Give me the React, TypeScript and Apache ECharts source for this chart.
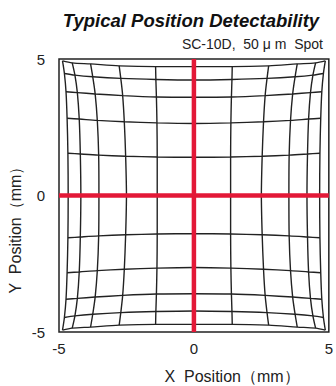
import React, { useEffect, useRef } from "react";
import * as echarts from "echarts";

// Quadrant readings (magnitudes, mm). Row index j: 0 = centre row .. 5 = outermost row.
// Column index i: 0 = centre column .. 5 = outermost column.
const uTable: number[][] = [
  [0, 1.36, 2.5, 3.52, 4.19, 4.66],
  [0, 1.36, 2.53, 3.53, 4.21, 4.67],
  [0, 1.37, 2.58, 3.58, 4.25, 4.7],
  [0, 1.39, 2.64, 3.66, 4.32, 4.74],
  [0, 1.41, 2.71, 3.75, 4.41, 4.8],
  [0, 1.42, 2.77, 3.83, 4.51, 4.87],
];
const vTable: number[][] = [
  [0, 0, 0, 0, 0, 0],
  [1.4, 1.41, 1.44, 1.48, 1.52, 1.55],
  [2.64, 2.66, 2.7, 2.75, 2.8, 2.83],
  [3.6, 3.61, 3.66, 3.72, 3.77, 3.8],
  [4.23, 4.25, 4.29, 4.35, 4.41, 4.47],
  [4.72, 4.72, 4.75, 4.82, 4.86, 4.93],
];
const gridIdx = [-5, -4, -3, -2, -1, 0, 1, 2, 3, 4, 5];
const axisTicks = [-5, 0, 5];
const crossH = [[-5, 0], [5, 0]];
const crossV = [[0, -5], [0, 5]];

const FONT = "'Liberation Sans', Arial, sans-serif";

function pt(jj: number, ii: number): number[] {
  const j = Math.abs(jj);
  const i = Math.abs(ii);
  const u = Math.sign(ii) * uTable[j][i];
  const v = Math.sign(jj) * vTable[j][i];
  return [u, v];
}

export default function App() {
  const ref = useRef<HTMLDivElement>(null);
  useEffect(() => {
    if (!ref.current) return;
    const chart = echarts.init(ref.current, undefined, { renderer: "svg" });
    const series: any[] = [];
    const lineStyle = { color: "#222", width: 1.4 };
    gridIdx.forEach((jj) => {
      series.push({
        type: "line",
        data: gridIdx.map((ii) => pt(jj, ii)),
        showSymbol: false,
        symbol: "none",
        smooth: 0.3,
        lineStyle,
        silent: true,
        z: 2,
      });
    });
    gridIdx.forEach((ii) => {
      series.push({
        type: "line",
        data: gridIdx.map((jj) => pt(jj, ii)),
        showSymbol: false,
        symbol: "none",
        smooth: 0.3,
        lineStyle,
        silent: true,
        z: 2,
      });
    });
    [crossH, crossV].forEach((d) => {
      series.push({
        type: "line",
        data: d,
        symbol: "none",
        lineStyle: { color: "#e31837", width: 4.5 },
        silent: true,
        z: 5,
      });
    });
    chart.setOption({
      animation: false,
      grid: {
        left: 59,
        top: 59,
        width: 273,
        height: 273,
        show: true,
        borderColor: "#222",
        borderWidth: 1.5,
        backgroundColor: "transparent",
      },
      xAxis: {
        type: "value",
        min: -5,
        max: 5,
        interval: 5,
        axisLine: { show: false },
        axisTick: { show: false },
        splitLine: { show: false },
        axisLabel: {
          fontSize: 15,
          color: "#222",
          fontFamily: FONT,
          margin: 9,
          formatter: (v: number) => (axisTicks.includes(v) ? String(v) : ""),
        },
      },
      yAxis: {
        type: "value",
        min: -5,
        max: 5,
        interval: 5,
        axisLine: { show: false },
        axisTick: { show: false },
        splitLine: { show: false },
        axisLabel: {
          fontSize: 15,
          color: "#222",
          fontFamily: FONT,
          margin: 14,
          formatter: (v: number) => (axisTicks.includes(v) ? String(v) : ""),
        },
      },
      graphic: [
        {
          type: "text",
          x: 191,
          y: 20,
          style: {
            text: "Typical Position Detectability",
            font: `italic bold 18.5px ${FONT}`,
            fill: "#111",
            textAlign: "center",
            textVerticalAlign: "middle",
          },
        },
        {
          type: "text",
          x: 323,
          y: 44,
          style: {
            text: "SC-10D,  50 μ m  Spot",
            font: `14px ${FONT}`,
            fill: "#222",
            textAlign: "right",
            textVerticalAlign: "middle",
          },
        },
        {
          type: "text",
          x: 232,
          y: 376,
          style: {
            text: "X  Position（mm）",
            font: `16px ${FONT}`,
            fill: "#222",
            textAlign: "center",
            textVerticalAlign: "middle",
          },
        },
        {
          type: "text",
          x: 15,
          y: 226,
          rotation: Math.PI / 2,
          style: {
            text: "Y  Position（mm）",
            font: `16px ${FONT}`,
            fill: "#222",
            textAlign: "center",
            textVerticalAlign: "middle",
          },
        },
      ],
      series,
    });
    return () => chart.dispose();
  }, []);
  return (
    <div
      ref={ref}
      style={{ position: "fixed", left: 0, top: 0, width: 336, height: 386, background: "#fff" }}
    />
  );
}
